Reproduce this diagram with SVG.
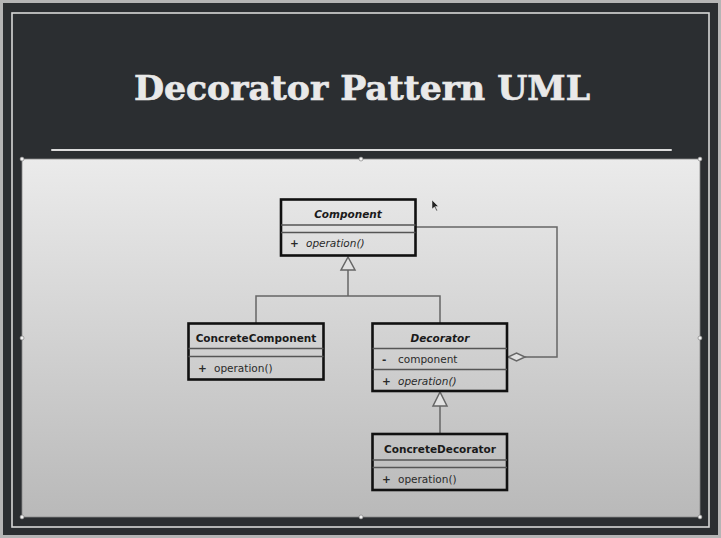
<svg xmlns="http://www.w3.org/2000/svg" width="721" height="538" viewBox="0 0 721 538">
<defs>
<linearGradient id="panelGrad" x1="0" y1="0" x2="0" y2="1">
<stop offset="0" stop-color="#ebebeb"/>
<stop offset="1" stop-color="#b9b9b9"/>
</linearGradient>
</defs>
<style>
.box{fill:none;stroke:#111;stroke-width:2.6}
.div{stroke:#555;stroke-width:1.4}
.name{font-family:"DejaVu Sans",sans-serif;font-size:10.5px;font-weight:bold;fill:#1a1a1a;text-anchor:middle}
.abs{font-style:italic}
.mem{font-family:"DejaVu Sans",sans-serif;font-size:10.5px;fill:#2a2a2a}
.vis{font-weight:bold}
.it{font-style:italic}
.conn{fill:none;stroke:#666;stroke-width:1.5}
.tri{fill:#e2e2e2;stroke:#666;stroke-width:1.5}
.handle{fill:#f2f2f2;stroke:#777;stroke-width:0.6}
</style>
<rect x="0" y="0" width="721" height="538" fill="#b5b5b5"/>
<rect x="3" y="3" width="715" height="532" fill="#2b2e31"/>
<rect x="12" y="13" width="697" height="514" fill="none" stroke="#d8d8d8" stroke-width="1.6"/>
<text x="362" y="100" font-family="DejaVu Serif, serif" font-weight="bold" font-size="33" fill="#e9e9e9" stroke="#e9e9e9" stroke-width="0.7" text-anchor="middle" textLength="456" lengthAdjust="spacingAndGlyphs">Decorator Pattern UML</text>
<line x1="52" y1="150" x2="671" y2="150" stroke="#dcdcdc" stroke-width="2" stroke-linecap="round"/>
<rect x="22" y="159" width="678" height="358" fill="url(#panelGrad)" stroke="#888" stroke-width="0.8"/>
<g id="handles">
<circle class="handle" cx="22" cy="159" r="2"/>
<circle class="handle" cx="361" cy="159" r="2"/>
<circle class="handle" cx="700" cy="159" r="2"/>
<circle class="handle" cx="22" cy="338" r="2"/>
<circle class="handle" cx="700" cy="338" r="2"/>
<circle class="handle" cx="22" cy="517" r="2"/>
<circle class="handle" cx="361" cy="517" r="2"/>
<circle class="handle" cx="700" cy="517" r="2"/>
</g>
<g id="connectors">
<polyline class="conn" points="348,270 348,296"/>
<polyline class="conn" points="256,323 256,296 440,296 440,323"/>
<polygon class="tri" points="348,257 341,270 355,270"/>
<polyline class="conn" points="440,406 440,434"/>
<polygon class="tri" points="440,392 433,406 447,406"/>
<polyline class="conn" points="416,227 557,227 557,357 525,357"/>
<polygon class="tri" points="508,357 516.5,353 525,357 516.5,361"/>
</g>
<g id="Component">
<rect class="box" x="281" y="199.5" width="134.5" height="56"/>
<line class="div" x1="281" y1="225" x2="415.5" y2="225"/>
<line class="div" x1="281" y1="232.5" x2="415.5" y2="232.5"/>
<text class="name abs" x="348" y="218">Component</text>
<text class="mem vis" x="290" y="247">+</text>
<text class="mem it" x="306" y="247">operation()</text>
</g>
<g id="ConcreteComponent">
<rect class="box" x="188.5" y="323.5" width="135" height="56"/>
<line class="div" x1="188.5" y1="348.5" x2="323.5" y2="348.5"/>
<line class="div" x1="188.5" y1="356.5" x2="323.5" y2="356.5"/>
<text class="name" x="256" y="342">ConcreteComponent</text>
<text class="mem vis" x="198" y="372">+</text>
<text class="mem" x="214" y="372">operation()</text>
</g>
<g id="Decorator">
<rect class="box" x="372.5" y="323.5" width="134.5" height="67.5"/>
<line class="div" x1="372.5" y1="348.5" x2="507" y2="348.5"/>
<line class="div" x1="372.5" y1="369.5" x2="507" y2="369.5"/>
<text class="name abs" x="440" y="342">Decorator</text>
<text class="mem vis" x="382" y="363">-</text>
<text class="mem" x="398" y="363">component</text>
<text class="mem vis" x="382" y="384.5">+</text>
<text class="mem it" x="398" y="384.5">operation()</text>
</g>
<g id="ConcreteDecorator">
<rect class="box" x="372.5" y="434" width="134.5" height="56"/>
<line class="div" x1="372.5" y1="460" x2="507" y2="460"/>
<line class="div" x1="372.5" y1="467.5" x2="507" y2="467.5"/>
<text class="name" x="440" y="453">ConcreteDecorator</text>
<text class="mem vis" x="382" y="482.5">+</text>
<text class="mem" x="398" y="482.5">operation()</text>
</g>
<g id="cursor">
<polygon points="432,200 432,209 434.5,207 436.5,211 437.5,210.5 435.5,206.5 438.5,206.5" fill="#222" stroke="#eee" stroke-width="0.5"/>
</g>
</svg>
